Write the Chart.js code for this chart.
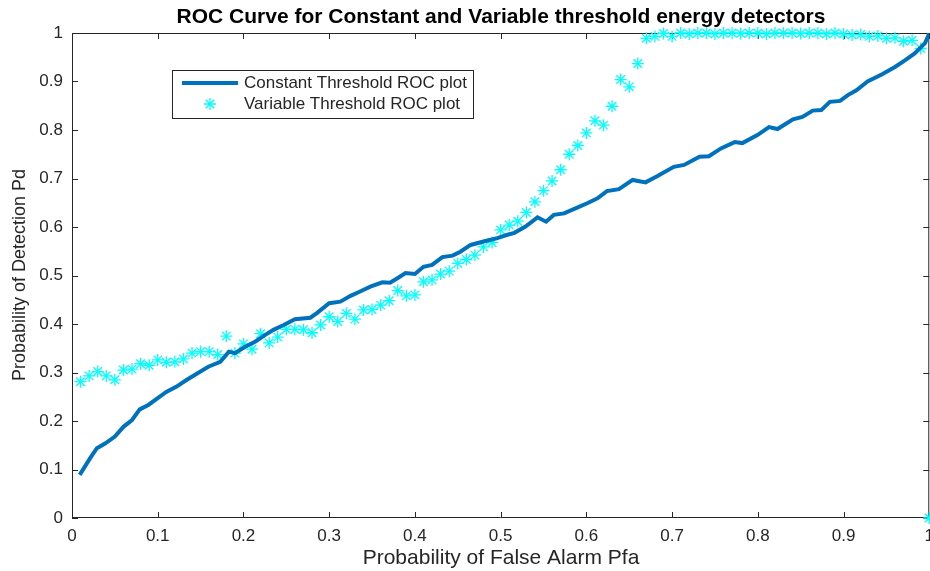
<!DOCTYPE html>
<html>
<head>
<meta charset="utf-8">
<script src="https://cdn.jsdelivr.net/npm/chart.js@4.4.0/dist/chart.umd.min.js"></script>
<style>
  html, body { margin: 0; background: #fff; overflow: hidden; }
  canvas { display: block; }
</style>
</head>
<body>
<!-- a few px wider than the window so the last x label runs off the edge -->
<canvas id="rocChart" width="942" height="571"></canvas>
<script>
// constant threshold detector: Pfa / Pd pairs
var pfaConst = [0.009, 0.015, 0.021, 0.029, 0.039, 0.05, 0.06, 0.07, 0.079, 0.089, 0.10, 0.11, 0.122, 0.134, 0.146, 0.159, 0.173, 0.183, 0.19, 0.202,
    0.214, 0.225, 0.235, 0.247, 0.26, 0.278, 0.286, 0.30, 0.313, 0.325, 0.336, 0.348, 0.362, 0.371, 0.381, 0.389, 0.40, 0.41, 0.42, 0.432,
    0.444, 0.453, 0.465, 0.48, 0.496, 0.508, 0.516, 0.529, 0.543, 0.553, 0.562, 0.574, 0.588, 0.601, 0.613, 0.624, 0.638, 0.654, 0.669, 0.683,
    0.702, 0.714, 0.732, 0.743, 0.757, 0.773, 0.782, 0.80, 0.813, 0.823, 0.841, 0.852, 0.864, 0.874, 0.884, 0.896, 0.905, 0.915, 0.928, 0.945,
    0.96, 0.972, 0.983, 0.995, 1.0];
var pdConst = [0.089, 0.106, 0.123, 0.144, 0.154, 0.168, 0.188, 0.202, 0.224, 0.233, 0.247, 0.26, 0.271, 0.285, 0.298, 0.312, 0.322, 0.343, 0.34, 0.353,
    0.364, 0.377, 0.388, 0.398, 0.41, 0.413, 0.423, 0.443, 0.446, 0.458, 0.467, 0.477, 0.486, 0.485, 0.496, 0.505, 0.503, 0.518, 0.522, 0.538,
    0.541, 0.549, 0.563, 0.57, 0.577, 0.584, 0.588, 0.601, 0.62, 0.611, 0.625, 0.628, 0.639, 0.649, 0.659, 0.674, 0.678, 0.697, 0.692, 0.705,
    0.724, 0.728, 0.745, 0.746, 0.762, 0.775, 0.773, 0.79, 0.806, 0.802, 0.822, 0.827, 0.84, 0.841, 0.858, 0.86, 0.872, 0.882, 0.9, 0.915,
    0.93, 0.944, 0.958, 0.979, 0.999];

// variable threshold detector
var pfaVar = [0.01, 0.02, 0.03, 0.04, 0.05, 0.06, 0.07, 0.08, 0.09, 0.10, 0.11, 0.12, 0.13, 0.14, 0.15, 0.16, 0.17, 0.18, 0.19, 0.20,
    0.21, 0.22, 0.23, 0.24, 0.25, 0.26, 0.27, 0.28, 0.29, 0.30, 0.31, 0.32, 0.33, 0.34, 0.35, 0.36, 0.37, 0.38, 0.39, 0.40,
    0.41, 0.42, 0.43, 0.44, 0.45, 0.46, 0.47, 0.48, 0.49, 0.50, 0.51, 0.52, 0.53, 0.54, 0.55, 0.56, 0.57, 0.58, 0.59, 0.60,
    0.61, 0.62, 0.63, 0.64, 0.65, 0.66, 0.67, 0.68, 0.69, 0.70, 0.71, 0.72, 0.73, 0.74, 0.75, 0.76, 0.77, 0.78, 0.79, 0.80,
    0.81, 0.82, 0.83, 0.84, 0.85, 0.86, 0.87, 0.88, 0.89, 0.90, 0.91, 0.92, 0.93, 0.94, 0.95, 0.96, 0.97, 0.98, 0.99, 1.00];
var pdVar = [0.281, 0.293, 0.302, 0.293, 0.285, 0.305, 0.307, 0.318, 0.315, 0.326, 0.321, 0.322, 0.328, 0.340, 0.343, 0.343, 0.337, 0.375, 0.340, 0.359,
    0.348, 0.380, 0.361, 0.373, 0.389, 0.389, 0.388, 0.382, 0.398, 0.415, 0.405, 0.422, 0.410, 0.429, 0.430, 0.439, 0.448, 0.469, 0.458, 0.460,
    0.487, 0.491, 0.503, 0.509, 0.525, 0.533, 0.542, 0.559, 0.568, 0.594, 0.604, 0.612, 0.630, 0.652, 0.675, 0.695, 0.718, 0.750, 0.768, 0.794,
    0.819, 0.810, 0.849, 0.904, 0.889, 0.937, 0.989, 0.993, 0.999, 0.993, 1.000, 0.998, 1.000, 1.000, 0.998, 1.000, 1.000, 0.999, 1.000, 1.000,
    0.998, 1.000, 1.000, 1.000, 0.999, 1.000, 1.000, 0.998, 1.000, 0.998, 0.996, 0.997, 0.993, 0.994, 0.989, 0.990, 0.983, 0.985, 0.968, 0];

var tickValues = [0, 0.1, 0.2, 0.3, 0.4, 0.5, 0.6, 0.7, 0.8, 0.9, 1];

var chartTitle = 'ROC Curve for Constant and Variable threshold energy detectors';
var xTitle = 'Probability of False Alarm Pfa';
var yTitle = 'Probability of Detection Pd';

var FONT = '"Liberation Sans", Arial, Helvetica, sans-serif';
var AXIS_COLOR = '#262626';
var BLUE = '#0072BD';
var CYAN = '#00FFFF';

function pairs(xs, ys) {
    return xs.map((x, i) => ({ x: x, y: ys[i] }));
}

function drawStar(ctx, x, y, r) {
    ctx.beginPath();
    for (let k = 0; k < 4; k++) {
        const ang = k * Math.PI / 4;
        ctx.moveTo(x - r * Math.cos(ang), y - r * Math.sin(ang));
        ctx.lineTo(x + r * Math.cos(ang), y + r * Math.sin(ang));
    }
    ctx.stroke();
}

// box, inward ticks, titles and legend drawn by hand, matlab style
const axesDecor = {
    id: 'axesDecor',
    beforeDatasetsDraw(chart) {
        const ctx = chart.ctx;
        const a = chart.chartArea;
        const xs = chart.scales.x, ys = chart.scales.y;
        ctx.save();
        ctx.strokeStyle = AXIS_COLOR;
        ctx.lineWidth = 1;
        ctx.beginPath();
        ctx.rect(a.left + 0.5, a.top + 0.5, a.right - a.left - 1, a.bottom - a.top - 1);
        tickValues.forEach(v => {
            const px = Math.round(xs.getPixelForValue(v)) + 0.5;
            ctx.moveTo(px, a.bottom); ctx.lineTo(px, a.bottom - 6);
            ctx.moveTo(px, a.top); ctx.lineTo(px, a.top + 6);
            const py = Math.round(ys.getPixelForValue(v)) + 0.5;
            ctx.moveTo(a.left, py); ctx.lineTo(a.left + 6, py);
            ctx.moveTo(a.right, py); ctx.lineTo(a.right - 6, py);
        });
        ctx.stroke();
        ctx.restore();
    },
    afterDatasetsDraw(chart) {
        const ctx = chart.ctx;
        const ds = chart.data.datasets;
        ctx.save();
        // legend
        const lx = 172, ly = 70, lw = 301, lh = 48;
        ctx.fillStyle = '#fff';
        ctx.fillRect(lx, ly, lw, lh);
        ctx.strokeStyle = AXIS_COLOR;
        ctx.lineWidth = 1;
        ctx.strokeRect(lx + 0.5, ly + 0.5, lw, lh);
        ctx.strokeStyle = BLUE;
        ctx.lineWidth = 4;
        ctx.beginPath();
        ctx.moveTo(182, 83); ctx.lineTo(238, 83);
        ctx.stroke();
        ctx.strokeStyle = CYAN;
        ctx.lineWidth = 1.3;
        drawStar(ctx, 210, 104, 6);
        ctx.fillStyle = AXIS_COLOR;
        ctx.font = '17px ' + FONT;
        ctx.textBaseline = 'middle';
        ctx.textAlign = 'left';
        ctx.fillText(ds[0].label, 244, 83);
        ctx.fillText(ds[1].label, 244, 104);

        // title and axis labels
        ctx.fillStyle = '#000';
        ctx.font = 'bold 21px ' + FONT;
        ctx.textAlign = 'center';
        ctx.fillText(chartTitle, 501, 17);
        ctx.fillStyle = AXIS_COLOR;
        ctx.font = '21px ' + FONT;
        ctx.fillText(xTitle, 501, 558);
        ctx.font = '18px ' + FONT;
        ctx.translate(20, 275);
        ctx.rotate(-Math.PI / 2);
        ctx.fillText(yTitle, 0, 0);
        ctx.restore();
    }
};

var ctx = document.getElementById('rocChart').getContext('2d');
var rocChart = new Chart(ctx, {
    type: 'scatter',
    data: {
        datasets: [{
            label: 'Constant Threshold ROC plot',
            data: pairs(pfaConst, pdConst),
            showLine: true,
            borderColor: BLUE,
            backgroundColor: BLUE,
            borderWidth: 4,
            pointRadius: 0,
            tension: 0
        }, {
            label: 'Variable Threshold ROC plot',
            data: pairs(pfaVar, pdVar),
            showLine: false,
            pointStyle: 'star',
            pointRadius: 6,
            borderColor: CYAN,
            backgroundColor: CYAN,
            pointBorderWidth: 1.3,
            clip: false
        }]
    },
    options: {
        responsive: false,
        animation: false,
        layout: { padding: { top: 33, right: 0, left: 0, bottom: 0 } },
        plugins: {
            legend: { display: false },
            title: { display: false },
            tooltip: { enabled: false }
        },
        scales: {
            x: {
                type: 'linear', min: 0, max: 1,
                afterFit: s => { s.height = 53; },
                afterBuildTicks: s => { s.ticks = tickValues.map(v => ({ value: v })); },
                grid: { display: false, drawTicks: false },
                border: { display: false },
                ticks: {
                    color: AXIS_COLOR, padding: 8, maxRotation: 0,
                    font: { family: FONT, size: 17 },
                    callback: v => String(+v.toFixed(1))
                }
            },
            y: {
                type: 'linear', min: 0, max: 1,
                afterFit: s => { s.width = 72; },
                afterBuildTicks: s => { s.ticks = tickValues.map(v => ({ value: v })); },
                grid: { display: false, drawTicks: false },
                border: { display: false },
                ticks: {
                    color: AXIS_COLOR, padding: 9,
                    font: { family: FONT, size: 17 },
                    callback: v => String(+v.toFixed(1))
                }
            }
        }
    },
    plugins: [axesDecor]
});
</script>
</body>
</html>
